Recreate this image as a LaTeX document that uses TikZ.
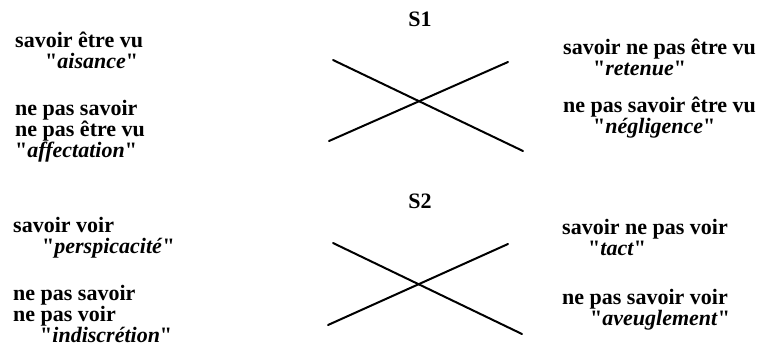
\documentclass[tikz,border=0pt]{standalone}
\usepackage{fontspec}
\newfontfamily\timesfont{Liberation Serif}
\usetikzlibrary{positioning}

\begin{document}
\begin{tikzpicture}[x=1pt, y=-1pt,
  lbl/.style={font=\timesfont\fontsize{22}{21}\selectfont\bfseries, align=left, inner sep=0pt, anchor=base west},
  ttl/.style={font=\timesfont\fontsize{22}{21}\selectfont\bfseries, inner sep=0pt, anchor=base},
  crs/.style={line width=2pt, line cap=round}]
\useasboundingbox (0,0) rectangle (766,349);
% S1: etre vu
\node[ttl] (s1) at (420,26) {S1};
\node[lbl] (aisance) at (15,68) {savoir être vu\\\hspace*{30pt}"\textit{aisance}"};
\node[lbl] (affect) at (15,157) {ne pas savoir\\ne pas être vu\\"\textit{affectation}"};
\node[lbl] (retenue) at (563,75) {savoir ne pas être vu\\\hspace*{30pt}"\textit{retenue}"};
\node[lbl] (neglig) at (563,133) {ne pas savoir être vu\\\hspace*{30pt}"\textit{négligence}"};
\coordinate (a1) at (333,60); \coordinate (a2) at (523,151);
\coordinate (b1) at (329,141); \coordinate (b2) at (508,62);
\draw[crs] (a1) -- (a2); \draw[crs] (b1) -- (b2);
% S2: voir
\node[ttl] (s2) at (420,208) {S2};
\node[lbl] (perspic) at (13,253) {savoir voir\\\hspace*{29pt}"\textit{perspicacité}"};
\node[lbl] (indisc) at (13,342) {ne pas savoir\\ne pas voir\\\hspace*{27pt}"\textit{indiscrétion}"};
\node[lbl] (tact) at (562,255) {savoir ne pas voir\\\hspace*{26pt}"\textit{tact}"};
\node[lbl] (aveugl) at (562,325) {ne pas savoir voir\\\hspace*{28pt}"\textit{aveuglement}"};
\coordinate (c1) at (333,243); \coordinate (c2) at (522,334);
\coordinate (d1) at (328,325); \coordinate (d2) at (508,244);
\draw[crs] (c1) -- (c2); \draw[crs] (d1) -- (d2);
\end{tikzpicture}
\end{document}
